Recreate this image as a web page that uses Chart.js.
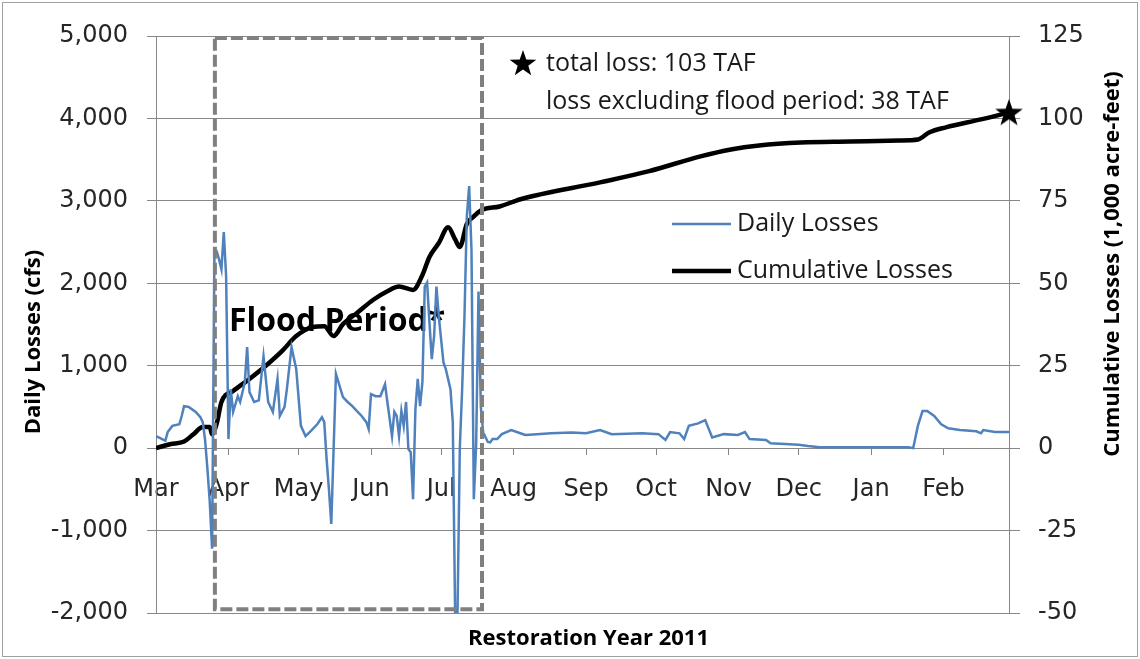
<!DOCTYPE html>
<html>
<head>
<meta charset="utf-8">
<script src="https://cdn.jsdelivr.net/npm/chart.js@4.4.1/dist/chart.umd.min.js"></script>
<style>
  html, body { margin: 0; padding: 0; background: #fff; }
</style>
</head>
<body>
<canvas id="lossChart" width="1140" height="659"></canvas>
<script>
// --- data (day 0 = 1 Mar 2011) ---
const dailyDays = [0, 4, 5, 7, 10, 11, 12, 14, 17, 19, 20, 21, 22, 23, 24, 25, 26, 27, 28, 29, 30, 31, 32, 33, 35, 36, 38, 39, 40, 42, 44, 46, 48, 50, 52, 53, 55, 56, 58, 60, 62, 64, 66, 69, 71, 72, 73, 74, 75, 76, 77, 80, 82, 84, 86, 88, 90, 91, 92, 94, 96, 98, 99, 101, 102, 103, 104, 105, 106, 107, 108, 109, 110, 111, 112, 113, 114, 115, 116, 117, 118, 119, 120, 121, 123, 124, 126, 127, 128, 129, 130, 131, 132, 133, 134, 135, 136, 137, 138, 139, 140, 142, 143, 144, 146, 148, 152, 155, 158, 163, 169, 178, 184, 190, 195, 208, 215, 218, 220, 224, 226, 228, 232, 235, 238, 243, 249, 252, 254, 261, 263, 269, 275, 279, 284, 322, 324, 326, 328, 330, 333, 336, 339, 344, 351, 353, 354, 359, 365];
const dailyCfs = [145, 90, 195, 270, 290, 390, 510, 500, 440, 375, 315, 100, -250, -650, -1220, 2350, 2380, 2290, 2170, 2620, 2090, 110, 715, 440, 630, 560, 800, 1225, 680, 560, 580, 1115, 560, 440, 840, 390, 500, 715, 1225, 960, 270, 145, 200, 290, 375, 315, -130, -500, -920, -10, 900, 620, 560, 510, 450, 390, 315, 230, 655, 630, 630, 775, 560, 145, 440, 390, 145, 450, 270, 560, -10, -50, -620, 470, 840, 510, 800, 1960, 2010, 1530, 1080, 1360, 1960, 1600, 1040, 960, 715, 315, -2030, -2030, 0, 715, 1600, 2810, 3180, 2400, -620, 50, 1900, 500, 190, 75, 70, 110, 110, 170, 220, 190, 160, 170, 180, 190, 180, 220, 170, 180, 170, 100, 195, 180, 110, 270, 300, 340, 130, 170, 160, 195, 110, 100, 60, 50, 40, 25, 10, 10, 0, 270, 450, 450, 390, 290, 240, 220, 205, 180, 220, 195, 195];

const cumDays = [0, 6, 12, 16, 20, 23, 24, 26, 28, 33, 40, 47, 54, 60, 67, 72, 76, 80, 86, 93, 99, 104, 110, 114, 117, 121, 125, 128, 130, 133, 136, 138, 140, 147, 156, 190, 211, 233, 246, 258, 276, 297, 318, 326, 331, 338, 353, 365];
const cumTaf = [0, 1.2, 2, 4.2, 6.4, 6.4, 4.2, 7.5, 14, 17.3, 21, 25, 29.5, 34, 36.7, 37, 34, 37.6, 41, 45, 47.6, 49, 48, 52.5, 58, 62.2, 67, 63.3, 61, 68, 70.3, 71.6, 72.4, 73.3, 75.5, 80.6, 84, 88.5, 90.6, 91.8, 92.7, 93, 93.3, 93.6, 95.8, 97.3, 99.7, 101.8];

const monthNames = ["Mar", "Apr", "May", "Jun", "Jul", "Aug", "Sep", "Oct", "Nov", "Dec", "Jan", "Feb"];
const monthStartDays = [0, 31, 61, 92, 122, 153, 184, 214, 245, 275, 306, 337];

const floodStartDay = 25.2;
const floodEndDay = 139.5;
const totalLossText = "total loss: 103 TAF";
const excludingText = "loss excluding flood period: 38 TAF";

const BLUE = "#4f81bd";
const GRID = "#878787";
const TICK_FONT = { family: "'DejaVu Sans'", size: 24 };

// --- filled star used as marker ---
function drawStar(ctx, cx, cy, rOut, rIn) {
  ctx.beginPath();
  for (let i = 0; i < 10; i++) {
    const r = i % 2 === 0 ? rOut : rIn;
    const a = -Math.PI / 2 + (i * Math.PI) / 5;
    const px = cx + r * Math.cos(a);
    const py = cy + r * Math.sin(a);
    if (i === 0) ctx.moveTo(px, py);
    else ctx.lineTo(px, py);
  }
  ctx.closePath();
  ctx.fill();
}
const starImg = document.createElement("canvas");
starImg.width = 32;
starImg.height = 32;
const sctx = starImg.getContext("2d");
sctx.fillStyle = "#000";
drawStar(sctx, 16, 17, 14.5, 5.8);

// --- extra drawing: titles, legend, note, flood box, frame ---
const decorPlugin = {
  id: "decor",
  beforeDatasetsDraw(chart) {
    const { ctx } = chart;
    const xs = chart.scales.x;
    const ys = chart.scales.y;
    ctx.save();
    ctx.fillStyle = "#000";
    ctx.font = "bold 32px 'Open Sans'";
    ctx.textBaseline = "middle";
    ctx.fillText("Flood Period*", xs.getPixelForValue(floodStartDay) + 14, ys.getPixelForValue(1530));
    ctx.restore();
  },
  afterDatasetsDraw(chart) {
    const { ctx, chartArea } = chart;
    const xs = chart.scales.x;
    const ys = chart.scales.y;
    ctx.save();

    // flood period box
    const x1 = xs.getPixelForValue(floodStartDay);
    const x2 = xs.getPixelForValue(floodEndDay);
    const y1 = ys.getPixelForValue(4975);
    const y2 = ys.getPixelForValue(-1955);
    ctx.setLineDash([12, 4]);
    ctx.lineWidth = 4;
    ctx.strokeStyle = "#808080";
    ctx.strokeRect(x1, y1, x2 - x1, y2 - y1);
    ctx.setLineDash([]);

    // note with star
    ctx.fillStyle = "#000";
    drawStar(ctx, 523, 64, 14, 5.6);
    ctx.fillStyle = "#1a1a1a";
    ctx.font = "25px 'Open Sans'";
    ctx.textBaseline = "middle";
    ctx.textAlign = "left";
    ctx.fillText(totalLossText, 546, 64);
    ctx.fillText(excludingText, 546, 102);

    // legend
    ctx.lineCap = "butt";
    ctx.strokeStyle = BLUE;
    ctx.lineWidth = 2.5;
    ctx.beginPath();
    ctx.moveTo(672, 224);
    ctx.lineTo(731, 224);
    ctx.stroke();
    ctx.strokeStyle = "#000";
    ctx.lineWidth = 4.5;
    ctx.beginPath();
    ctx.moveTo(672, 271);
    ctx.lineTo(731, 271);
    ctx.stroke();
    ctx.fillText("Daily Losses", 737, 224);
    ctx.fillText("Cumulative Losses", 737, 271);

    // axis titles
    ctx.fillStyle = "#000";
    ctx.font = "bold 22px 'Open Sans'";
    ctx.textAlign = "center";
    ctx.fillText("Restoration Year 2011", (chartArea.left + chartArea.right) / 2 + 6, 639);
    ctx.save();
    ctx.translate(34, 342);
    ctx.rotate(-Math.PI / 2);
    ctx.fillText("Daily Losses (cfs)", 0, 0);
    ctx.restore();
    ctx.save();
    ctx.translate(1113, 264);
    ctx.rotate(-Math.PI / 2);
    ctx.fillText("Cumulative Losses (1,000 acre-feet)", 0, 0);
    ctx.restore();

    // outer frame
    ctx.strokeStyle = "#a0a0a0";
    ctx.lineWidth = 1;
    ctx.strokeRect(2.5, 2.5, chart.width - 5, chart.height - 5);
    ctx.restore();
  },
};

const ctx = document.getElementById("lossChart").getContext("2d");
const lossChart = new Chart(ctx, {
  type: "line",
  data: {
    datasets: [
      {
        label: "Total",
        type: "scatter",
        data: [{ x: cumDays[cumDays.length - 1], y: cumTaf[cumTaf.length - 1] }],
        yAxisID: "y2",
        pointStyle: starImg,
        pointRadius: 15,
        clip: false,
      },
      {
        label: "Daily Losses",
        data: dailyDays.map((d, i) => ({ x: d, y: dailyCfs[i] })),
        borderColor: BLUE,
        borderWidth: 2.5,
        pointRadius: 0,
        tension: 0,
        yAxisID: "y",
      },
      {
        label: "Cumulative Losses",
        data: cumDays.map((d, i) => ({ x: d, y: cumTaf[i] })),
        borderColor: "#000",
        borderWidth: 4.5,
        pointRadius: 0,
        cubicInterpolationMode: "monotone",
        yAxisID: "y2",
      },
    ],
  },
  options: {
    responsive: false,
    animation: false,
    layout: { padding: { top: 36, bottom: 46, left: 0, right: 0 } },
    plugins: { legend: { display: false }, tooltip: { enabled: false } },
    scales: {
      x: {
        type: "linear",
        position: { y: 0 },
        min: 0,
        max: 365,
        afterBuildTicks: (s) => {
          s.ticks = monthStartDays.map((v) => ({ value: v }));
        },
        afterFit: (s) => {
          s.height = 0;
        },
        ticks: {
          autoSkip: false,
          maxRotation: 0,
          padding: 20,
          color: "#262626",
          font: TICK_FONT,
          callback: (v) => monthNames[monthStartDays.indexOf(v)],
        },
        grid: { drawOnChartArea: false, tickLength: 7, color: GRID },
        border: { display: false },
      },
      y: {
        position: "left",
        min: -2000,
        max: 5000,
        afterBuildTicks: (s) => {
          s.ticks = [-2000, -1000, 0, 1000, 2000, 3000, 4000, 5000].map((v) => ({ value: v }));
        },
        afterFit: (s) => {
          s.width = 156;
        },
        ticks: {
          padding: 19,
          color: "#262626",
          font: TICK_FONT,
          callback: (v) => v.toLocaleString("en-US"),
        },
        grid: { color: GRID, tickLength: 9 },
        border: { color: GRID },
      },
      y2: {
        position: "right",
        min: -50,
        max: 125,
        afterBuildTicks: (s) => {
          s.ticks = [-50, -25, 0, 25, 50, 75, 100, 125].map((v) => ({ value: v }));
        },
        afterFit: (s) => {
          s.width = 131;
        },
        ticks: { padding: 18, color: "#262626", font: TICK_FONT },
        grid: { drawOnChartArea: false, color: GRID, tickLength: 11 },
        border: { color: GRID },
      },
    },
  },
  plugins: [decorPlugin],
});
</script>
</body>
</html>
